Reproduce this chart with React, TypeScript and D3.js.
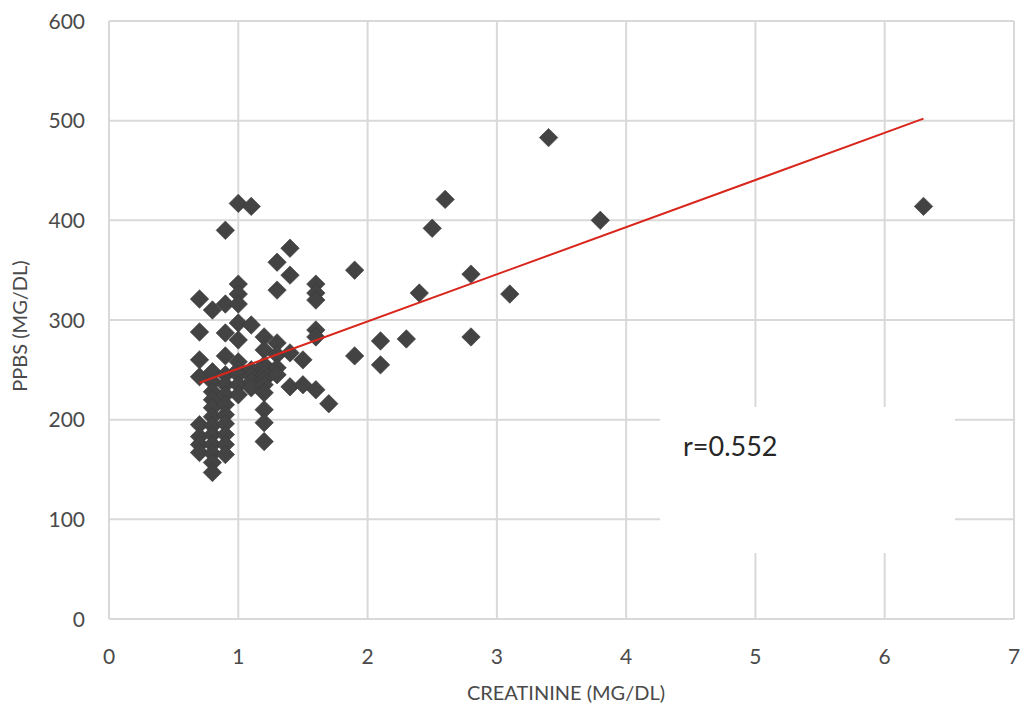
import React from "react";
import * as d3 from "d3";

// Creatinine (mg/dL) values of each point
const creatinine: number[] = [
  0.7, 0.7, 0.7, 0.7, 0.7, 0.7, 0.7, 0.7,
  0.8, 0.8, 0.8, 0.8, 0.8, 0.8, 0.8, 0.8, 0.8, 0.8, 0.8, 0.8, 0.8,
  0.9, 0.9, 0.9, 0.9, 0.9, 0.9, 0.9, 0.9, 0.9, 0.9, 0.9, 0.9, 0.9,
  1.0, 1.0, 1.0, 1.0, 1.0, 1.0, 1.0, 1.0, 1.0, 1.0, 1.0,
  1.1, 1.1, 1.1, 1.1, 1.1, 1.1,
  1.2, 1.2, 1.2, 1.2, 1.2, 1.2, 1.2, 1.2, 1.2, 1.2, 1.2,
  1.3, 1.3, 1.3, 1.3, 1.3, 1.3,
  1.4, 1.4, 1.4, 1.4,
  1.5, 1.5,
  1.6, 1.6, 1.6, 1.6, 1.6, 1.6,
  1.7,
  1.9, 1.9,
  2.1, 2.1,
  2.3,
  2.4,
  2.5,
  2.6,
  2.8, 2.8,
  3.1,
  3.4,
  3.8,
  6.3,
];

// PPBS (mg/dL) values of each point
const ppbs: number[] = [
  321, 288, 260, 243, 195, 183, 175, 167,
  310, 248, 238, 228, 220, 212, 203, 194, 185, 175, 166, 157, 147,
  390, 316, 287, 264, 245, 235, 225, 215, 205, 196, 185, 175, 165,
  417, 336, 326, 316, 297, 280, 258, 250, 245, 235, 225,
  414, 295, 250, 244, 238, 232,
  283, 270, 255, 250, 245, 240, 235, 227, 210, 197, 178,
  358, 330, 277, 265, 252, 245,
  372, 345, 267, 233,
  260, 235,
  336, 327, 320, 290, 283, 230,
  216,
  350, 264,
  279, 255,
  281,
  327,
  392,
  421,
  346, 283,
  326,
  483,
  400,
  414,
];

// Linear trendline end points
const trendX: number[] = [0.7, 6.3];
const trendY: number[] = [237, 502];

const xTicks: number[] = [0, 1, 2, 3, 4, 5, 6, 7];
const yTicks: number[] = [0, 100, 200, 300, 400, 500, 600];

const xTitle = "CREATININE (MG/DL)";
const yTitle = "PPBS (MG/DL)";
const corrLabel = "r=0.552";

const W = 1022;
const H = 718;
const FONT = "Lato, 'Open Sans', sans-serif";

export default function App() {
  const x = d3.scaleLinear().domain([0, 7]).range([109, 1014]);
  const y = d3.scaleLinear().domain([0, 600]).range([619, 21]);

  const diamond = d3.symbol().type(d3.symbolSquare).size(170)();
  const line = d3
    .line<number>()
    .x((_, i) => x(trendX[i]))
    .y((_, i) => y(trendY[i]));

  const grid = "#d9d9d9";
  const n = Math.min(creatinine.length, ppbs.length);
  const points = creatinine.slice(0, n).map((c, i) => ({ c, p: ppbs[i] }));
  const labelColor = "#4a4a4a";

  return (
    <div style={{ position: "absolute", left: 0, top: 0 }}>
      <svg width={W} height={H} style={{ display: "block", background: "#fff" }}>
        <rect x={0} y={0} width={W} height={H} fill="#fff" />
        {/* grid */}
        {yTicks.map((t) => (
          <line key={"gy" + t} x1={x(0)} x2={x(7)} y1={y(t)} y2={y(t)} stroke={grid} strokeWidth={2} />
        ))}
        {xTicks.map((t) => (
          <line key={"gx" + t} x1={x(t)} x2={x(t)} y1={y(0)} y2={y(600)} stroke={grid} strokeWidth={2} />
        ))}
        {/* tick labels */}
        {yTicks.map((t) => (
          <text key={"ly" + t} x={85} y={y(t)} dy="0.36em" textAnchor="end" fontFamily={FONT} fontSize={21} fill={labelColor}>
            {t}
          </text>
        ))}
        {xTicks.map((t) => (
          <text key={"lx" + t} x={x(t)} y={664} textAnchor="middle" fontFamily={FONT} fontSize={21} fill={labelColor}>
            {t}
          </text>
        ))}
        {/* axis titles */}
        <text x={566} y={700} textAnchor="middle" fontFamily={FONT} fontSize={20} fill={labelColor}>
          {xTitle}
        </text>
        <text
          transform={`translate(27, ${326}) rotate(-90)`}
          textAnchor="middle"
          fontFamily={FONT}
          fontSize={20}
          fill={labelColor}
        >
          {yTitle}
        </text>
        {/* points */}
        {points.map((d, i) => (
          <path
            key={"pt" + i}
            d={diamond || ""}
            transform={`translate(${x(d.c)}, ${y(d.p)}) rotate(45)`}
            fill="#434343"
            stroke="#3a3a3a"
            strokeWidth={0.6}
          />
        ))}
        {/* trendline */}
        <path d={line(trendX) || ""} fill="none" stroke="#d9261c" strokeWidth={2} />
        {/* correlation label box */}
        <rect x={660} y={407} width={295} height={146} fill="#fff" />
        <text x={683} y={456} fontFamily={FONT} fontSize={27} fill="#262626">
          {corrLabel}
        </text>
      </svg>
    </div>
  );
}
